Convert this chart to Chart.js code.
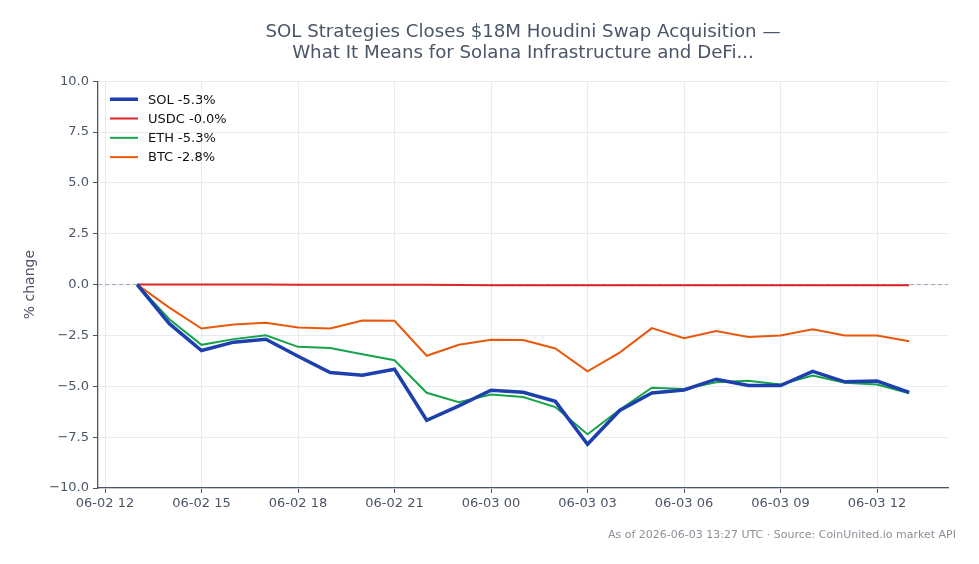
<!DOCTYPE html>
<html>
<head>
<meta charset="utf-8">
<script src="https://cdn.jsdelivr.net/npm/chart.js@4/dist/chart.umd.min.js"></script>
<style>
  body { margin: 0; background: #fff; }
  #wrap { position: relative; width: 979px; height: 564px; }
</style>
</head>
<body>
<div id="wrap"><canvas id="chart" width="979" height="564"></canvas></div>
<script>
// hours since 06-02 00:00 UTC
var hours = [13, 14, 15, 16, 17, 18, 19, 20, 21, 22, 23, 24, 25, 26, 27, 28, 29, 30, 31, 32, 33, 34, 35, 36, 37];

var solChange = [0, -1.92, -3.24, -2.83, -2.69, -3.52, -4.32, -4.45, -4.16, -6.67, -5.96, -5.19, -5.29, -5.74, -7.85, -6.19, -5.33, -5.18, -4.65, -4.96, -4.96, -4.27, -4.78, -4.74, -5.3];
var usdcChange = [0, 0.0, 0.01, 0.01, 0.0, -0.01, -0.01, -0.01, -0.01, -0.01, -0.02, -0.03, -0.03, -0.03, -0.03, -0.03, -0.03, -0.03, -0.03, -0.03, -0.03, -0.03, -0.03, -0.03, -0.03];
var ethChange = [0, -1.7, -2.96, -2.68, -2.49, -3.06, -3.12, -3.42, -3.72, -5.32, -5.78, -5.4, -5.53, -6.02, -7.36, -6.15, -5.07, -5.13, -4.8, -4.73, -4.91, -4.47, -4.83, -4.91, -5.34];
var btcChange = [0, -1.13, -2.16, -1.96, -1.88, -2.11, -2.16, -1.76, -1.78, -3.5, -2.96, -2.71, -2.72, -3.14, -4.26, -3.34, -2.14, -2.63, -2.28, -2.57, -2.5, -2.2, -2.5, -2.5, -2.78];

var xTickHours = [12, 15, 18, 21, 24, 27, 30, 33, 36];
var xTickLabels = ['06-02 12', '06-02 15', '06-02 18', '06-02 21', '06-03 00', '06-03 03', '06-03 06', '06-03 09', '06-03 12'];
var yTicks = [-10, -7.5, -5, -2.5, 0, 2.5, 5, 7.5, 10];

var titleLines = ['SOL Strategies Closes $18M Houdini Swap Acquisition \u2014', 'What It Means for Solana Infrastructure and DeFi...'];
var footerText = 'As of 2026-06-03 13:27 UTC \u00b7 Source: CoinUnited.io market API';

var FONT = "'DejaVu Sans', sans-serif";
var inkColor = '#4a5568';
var gridColor = '#e8ebf0';

function toPoints(values) {
    return values.map(function(v, i) { return { x: hours[i], y: v }; });
}

function makeSeries(label, values, color, width) {
    return {
        label: label,
        data: toPoints(values),
        borderColor: color,
        backgroundColor: color,
        borderWidth: width,
        pointRadius: 0,
        tension: 0,
        fill: false
    };
}

var datasets = [
    makeSeries('SOL -5.3%', solChange, '#1e40af', 3.5),
    makeSeries('USDC -0.0%', usdcChange, '#dc2626', 2),
    makeSeries('ETH -5.3%', ethChange, '#16a34a', 2),
    makeSeries('BTC -2.8%', btcChange, '#ea580c', 2)
];

// dashed zero reference line
var zeroLine = {
    id: 'zeroLine',
    beforeDatasetsDraw: function(chart) {
        var ctx = chart.ctx, area = chart.chartArea;
        var y = chart.scales.y.getPixelForValue(0);
        ctx.save();
        ctx.strokeStyle = '#9aa5b8';
        ctx.lineWidth = 1;
        ctx.setLineDash([4, 3]);
        ctx.beginPath();
        ctx.moveTo(area.left, y);
        ctx.lineTo(area.right, y);
        ctx.stroke();
        ctx.restore();
    }
};

// legend drawn inside the plot, top left
var innerLegend = {
    id: 'innerLegend',
    afterDraw: function(chart) {
        var ctx = chart.ctx, area = chart.chartArea;
        ctx.save();
        ctx.font = '13px ' + FONT;
        ctx.textBaseline = 'middle';
        chart.data.datasets.forEach(function(ds, i) {
            var y = area.top + 18 + i * 19.3;
            var x = area.left + 12;
            ctx.strokeStyle = ds.borderColor;
            ctx.lineWidth = ds.borderWidth;
            ctx.beginPath();
            ctx.moveTo(x, y);
            ctx.lineTo(x + 28, y);
            ctx.stroke();
            ctx.fillStyle = '#111';
            ctx.fillText(ds.label, x + 38, y + 1);
        });
        ctx.restore();
    }
};

var footerNote = {
    id: 'footerNote',
    afterDraw: function(chart) {
        var ctx = chart.ctx;
        ctx.save();
        ctx.font = '11px ' + FONT;
        ctx.fillStyle = '#8a9099';
        ctx.textAlign = 'right';
        ctx.textBaseline = 'middle';
        ctx.fillText(footerText, chart.width - 23, chart.height - 29);
        ctx.restore();
    }
};

var ctx = document.getElementById('chart').getContext('2d');
new Chart(ctx, {
    type: 'line',
    data: { datasets: datasets },
    options: {
        responsive: false,
        animation: false,
        layout: { padding: { left: 22, right: 31, top: 0, bottom: 46 } },
        plugins: {
            legend: { display: false },
            tooltip: { enabled: false },
            title: {
                display: true,
                fullSize: false,
                text: titleLines,
                color: inkColor,
                font: { family: FONT, size: 18.2, weight: 'normal', lineHeight: 1.16 },
                padding: { top: 22, bottom: 17 }
            }
        },
        scales: {
            x: {
                type: 'linear',
                min: 11.782,
                max: 38.207,
                afterBuildTicks: function(scale) {
                    scale.ticks = xTickHours.map(function(h) { return { value: h }; });
                },
                afterFit: function(scale) { scale.height = 30; },
                ticks: {
                    color: inkColor,
                    font: { family: FONT, size: 13 },
                    padding: 3,
                    maxRotation: 0,
                    autoSkip: false,
                    callback: function(value) {
                        var i = xTickHours.indexOf(value);
                        return i >= 0 ? xTickLabels[i] : '';
                    }
                },
                grid: { color: gridColor, tickColor: inkColor, tickLength: 5, lineWidth: 1 },
                border: { color: inkColor, width: 1.3 }
            },
            y: {
                min: -10,
                max: 10,
                afterBuildTicks: function(scale) {
                    scale.ticks = yTicks.map(function(v) { return { value: v }; });
                },
                afterFit: function(scale) { scale.width = 76; },
                ticks: {
                    color: inkColor,
                    font: { family: FONT, size: 13 },
                    padding: 4,
                    callback: function(value) {
                        return value.toFixed(1).replace('-', '\u2212');
                    }
                },
                title: {
                    display: true,
                    text: '% change',
                    color: inkColor,
                    font: { family: FONT, size: 14 },
                    padding: { top: 0, bottom: 6 }
                },
                grid: { color: gridColor, tickColor: inkColor, tickLength: 5, lineWidth: 1 },
                border: { color: inkColor, width: 1.3 }
            }
        }
    },
    plugins: [zeroLine, innerLegend, footerNote]
});
</script>
</body>
</html>
